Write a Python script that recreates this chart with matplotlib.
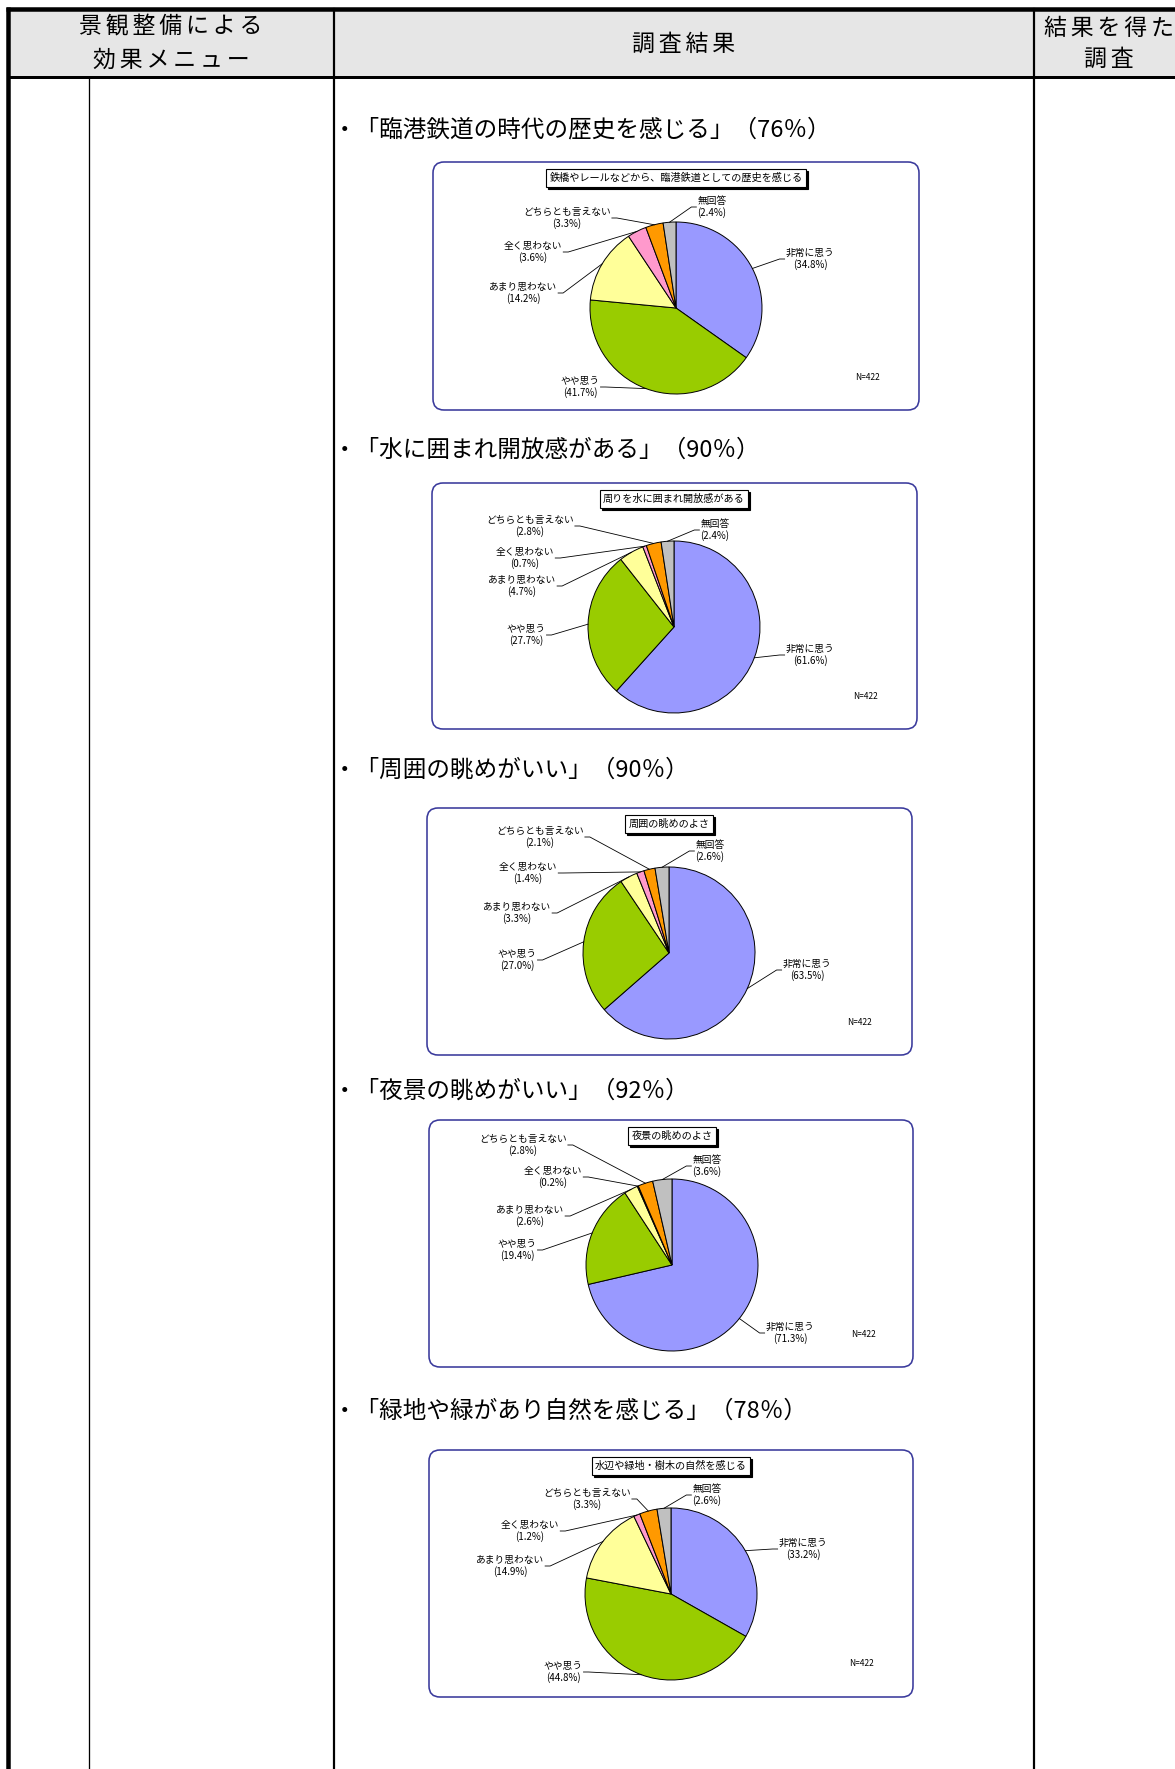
import numpy as np
import matplotlib
matplotlib.use("Agg")
import matplotlib.pyplot as plt
from matplotlib.patches import Rectangle, FancyBboxPatch

plt.rcParams['font.family'] = ['Noto Sans CJK JP', 'DejaVu Sans']

W, H = 1175, 1769

# survey answers, shared by every pie
categories = ['非常に思う', 'やや思う', 'あまり思わない', '全く思わない', 'どちらとも言えない', '無回答']
colors = ['#9999ff', '#99cc00', '#ffff99', '#ff99cc', '#ff9900', '#c0c0c0']

headings = [
    '・「臨港鉄道の時代の歴史を感じる」（76％）',
    '・「水に囲まれ開放感がある」（90％）',
    '・「周囲の眺めがいい」（90％）',
    '・「夜景の眺めがいい」（92％）',
    '・「緑地や緑があり自然を感じる」（78％）',
]
titles = [
    '鉄橋やレールなどから、臨港鉄道としての歴史を感じる',
    '周りを水に囲まれ開放感がある',
    '周囲の眺めのよさ',
    '夜景の眺めのよさ',
    '水辺や緑地・樹木の自然を感じる',
]

history = [34.8, 41.7, 14.2, 3.6, 3.3, 2.4]
openness = [61.6, 27.7, 4.7, 0.7, 2.8, 2.4]
view = [63.5, 27.0, 3.3, 1.4, 2.1, 2.6]
night_view = [71.3, 19.4, 2.6, 0.2, 2.8, 3.6]
nature = [33.2, 44.8, 14.9, 1.2, 3.3, 2.6]
series = [history, openness, view, night_view, nature]
n_resp = 422

# layout in pixels (y downwards)
heading_y = [130, 450, 770, 1091, 1411]
boxes = [(433, 162, 919, 410), (432, 483, 917, 729), (427, 808, 912, 1055),
         (429, 1120, 913, 1367), (429, 1450, 913, 1697)]
centers = [(676, 308), (674, 627), (669, 953), (672, 1265), (671, 1594)]
R = 86
label_pos = [
    [(134, -49), (-96, 79), (-153, -15), (-143, -56), (-109, -90), (36, -101)],
    [(136, 28), (-148, 8), (-152, -41), (-149, -69), (-144, -101), (41, -97)],
    [(138, 17), (-152, 7), (-152, -40), (-141, -80), (-129, -116), (41, -102)],
    [(118, 68), (-155, -15), (-142, -49), (-119, -88), (-149, -120), (35, -99)],
    [(132, -45), (-108, 78), (-161, -28), (-141, -63), (-84, -95), (36, -99)],
]

fig = plt.figure(figsize=(W / 100, H / 100), dpi=100)
ax = fig.add_axes([0, 0, 1, 1])
ax.set_xlim(0, W)
ax.set_ylim(H, 0)
ax.axis('off')

def px(v):
    return v * 0.72

# table frame
ax.add_patch(Rectangle((8, 9), W - 8, 68, facecolor='#e6e6e6', edgecolor='none'))
ax.plot([6, W], [9, 9], color='black', lw=px(4.5), solid_capstyle='butt')
ax.plot([8, 8], [7, H], color='black', lw=px(4.5), solid_capstyle='butt')
ax.plot([8, W], [77, 77], color='black', lw=px(3), solid_capstyle='butt')
ax.plot([89, 89], [77, H], color='black', lw=px(1.3))
ax.plot([334, 334], [9, H], color='black', lw=px(2.2))
ax.plot([1034, 1034], [9, H], color='black', lw=px(2.2))

def spaced(s):
    return '\u2006'.join(s)

hdr = dict(fontsize=16.5, ha='center', va='center', color='black')
ax.text(171, 27, spaced('景観整備による'), **hdr)
ax.text(171, 60, spaced('効果メニュー'), **hdr)
ax.text(684, 44, spaced('調査結果'), **hdr)
ax.text(1109, 28, spaced('結果を得た'), **hdr)
ax.text(1109, 59, spaced('調査'), **hdr)

pending = []
for i, vals in enumerate(series):
    ax.text(333, heading_y[i], headings[i], fontsize=17, ha='left', va='center')

    x0, y0, x1, y1 = boxes[i]
    ax.add_patch(FancyBboxPatch((x0, y0), x1 - x0, y1 - y0,
                                boxstyle='round,pad=0,rounding_size=11',
                                facecolor='white', edgecolor='#3a3a9c', lw=px(1.6)))
    cx, cy = centers[i]
    ty = y0 + 16
    ax.text(cx + 2, ty + 2, titles[i], fontsize=7.3, ha='center', va='center', color='black',
            bbox=dict(boxstyle='square,pad=0.35', fc='black', ec='black', lw=0.8), zorder=3)
    ax.text(cx, ty, titles[i], fontsize=7.3, ha='center', va='center', color='black',
            bbox=dict(boxstyle='square,pad=0.35', fc='white', ec='black', lw=0.8), zorder=4)
    ax.text(cx + 191, cy + 69, f'N={n_resp}', fontsize=6, ha='center', va='center',
            color='black')

    pax = fig.add_axes([(cx - R) / W, 1 - (cy + R) / H, 2 * R / W, 2 * R / H])
    wedges, _ = pax.pie(vals, colors=colors, startangle=90, counterclock=False,
                        wedgeprops=dict(edgecolor='black', linewidth=0.7, clip_on=False))
    pax.set_xlim(-1, 1)
    pax.set_ylim(-1, 1)
    pax.axis('off')

    texts = []
    for cat, v, (dx, dy) in zip(categories, vals, label_pos[i]):
        t = pax.text(dx / R, -dy / R, f'{cat}\n({v:.1f}%)', fontsize=7,
                     ha='center', va='center', multialignment='center',
                     linespacing=1.15, color='black')
        texts.append(t)
    pending.append((pax, wedges, texts))

# leader lines from each label to the edge of its slice
fig.canvas.draw()
renderer = fig.canvas.get_renderer()
for pax, wedges, texts in pending:
    inv = pax.transData.inverted()
    for w, t in zip(wedges, texts):
        ang = np.deg2rad((w.theta1 + w.theta2) / 2)
        ex, ey = np.cos(ang), np.sin(ang)
        bb = t.get_window_extent(renderer)
        (bx0, by0), (bx1, by1) = inv.transform([[bb.x0, bb.y0], [bb.x1, bb.y1]])
        ym = (by0 + by1) / 2
        tick = 5 / R
        if (bx0 + bx1) / 2 < ex:
            sx = bx1 + 1 / R
            xs, ys = [sx, sx + tick, ex], [ym, ym, ey]
        else:
            sx = bx0 - 1 / R
            xs, ys = [sx, sx - tick, ex], [ym, ym, ey]
        pax.plot(xs, ys, color='black', lw=0.6, clip_on=False)

fig.savefig('out.png', dpi=100)
